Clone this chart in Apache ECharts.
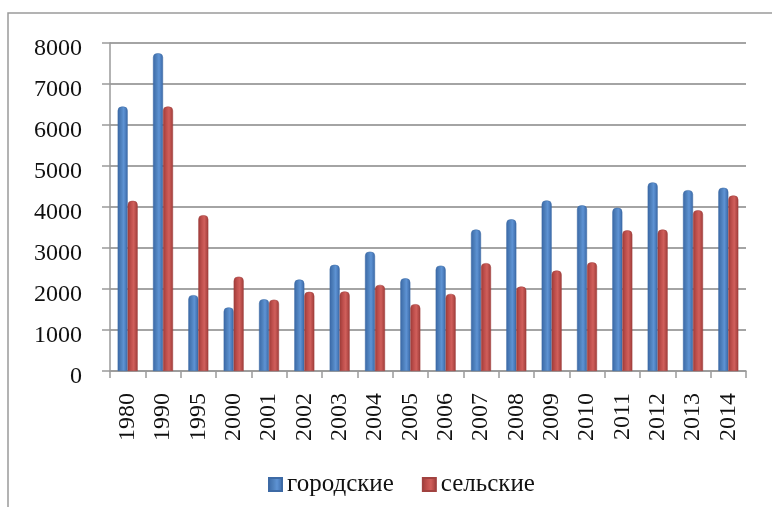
<!DOCTYPE html>
<html>
<head>
<meta charset="utf-8">
<script src="https://cdn.jsdelivr.net/npm/echarts@6/dist/echarts.min.js"></script>
<style>
  html, body { margin: 0; padding: 0; background: #fff; }
  #chart { width: 772px; height: 507px; }
</style>
</head>
<body>
<div id="chart"></div>
<script>
// Years on the category axis
const years = ['1980', '1990', '1995', '2000', '2001', '2002', '2003', '2004', '2005',
  '2006', '2007', '2008', '2009', '2010', '2011', '2012', '2013', '2014'];

// Urban values
const urban = [6450, 7750, 1850, 1550, 1750, 2230, 2590, 2910, 2260,
  2570, 3450, 3700, 4160, 4040, 3980, 4600, 4410, 4470];

// Rural values
const rural = [4150, 6450, 3800, 2300, 1740, 1930, 1940, 2100, 1630,
  1880, 2630, 2060, 2450, 2650, 3430, 3450, 3920, 4280];

const seriesNames = ['городские', 'сельские'];

const fontFamily = '"Liberation Serif", "Times New Roman", serif';
const axisGray = '#9a9a9a';

// Horizontal gradient giving the bars a rounded, cylinder-like look
function cylinder(edge, mid, light) {
  return new echarts.graphic.LinearGradient(0, 0, 1, 0, [
    { offset: 0, color: edge },
    { offset: 0.35, color: mid },
    { offset: 0.6, color: light },
    { offset: 1, color: edge }
  ]);
}

const chart = echarts.init(document.getElementById('chart'), null, { renderer: 'canvas' });

chart.setOption({
  backgroundColor: '#ffffff',
  animation: false,
  graphic: [{
    type: 'rect',
    shape: { x: 8, y: 13, width: 900, height: 700 },
    style: { fill: 'none', stroke: axisGray, lineWidth: 1.5 },
    silent: true,
    z: -1
  }],
  grid: { left: 110, right: 26, top: 43, height: 328 },
  legend: {
    left: 263,
    top: 467,
    itemWidth: 13,
    itemHeight: 13,
    itemGap: 28,
    icon: 'rect',
    textStyle: { fontFamily, fontSize: 25, color: '#111' },
    data: seriesNames
  },
  xAxis: {
    type: 'category',
    data: years,
    axisLine: { lineStyle: { color: axisGray, width: 1.5 } },
    axisTick: { show: true, length: 7, lineStyle: { color: axisGray, width: 1.5 } },
    axisLabel: {
      rotate: 90,
      margin: 22,
      fontFamily,
      fontSize: 24,
      color: '#111'
    }
  },
  yAxis: {
    type: 'value',
    min: 0,
    max: 8000,
    interval: 1000,
    axisLine: { show: true, lineStyle: { color: axisGray, width: 1.5 } },
    axisTick: { show: true, length: 8, lineStyle: { color: axisGray, width: 1.5 } },
    splitLine: { lineStyle: { color: '#a4a4a4', width: 2 } },
    axisLabel: {
      margin: 28,
      formatter: (v) => String(v),
      verticalAlign: 'top',
      lineHeight: 12,
      fontFamily,
      fontSize: 24,
      color: '#111'
    }
  },
  series: [
    {
      name: seriesNames[0],
      type: 'bar',
      data: urban,
      barWidth: 10,
      barGap: '0%',
      itemStyle: {
        color: cylinder('#3a68a6', '#4f81bd', '#5e93d4'),
        borderColor: '#3d6aa5',
        borderWidth: 0.5,
        borderRadius: [4, 4, 0, 0]
      }
    },
    {
      name: seriesNames[1],
      type: 'bar',
      data: rural,
      barWidth: 10,
      barGap: '0%',
      itemStyle: {
        color: cylinder('#9e3b38', '#c0504d', '#d05f5b'),
        borderColor: '#a14240',
        borderWidth: 0.5,
        borderRadius: [4, 4, 0, 0]
      }
    }
  ]
});
</script>
</body>
</html>
